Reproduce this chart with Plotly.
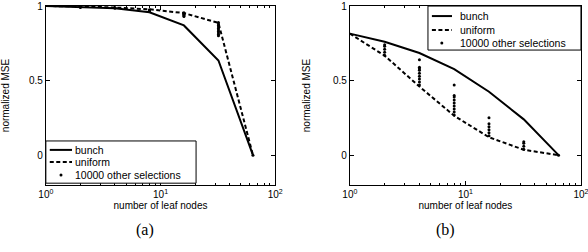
import plotly.graph_objects as go

leaf_nodes = [1, 2, 4, 8, 16, 32, 64]

# Panel (a)
bunch_a = [1.0, 0.995, 0.985, 0.958, 0.87, 0.635, 0.0]
uniform_a = [1.0, 0.998, 0.99, 0.978, 0.953, 0.887, 0.0]
other_a_x = [2, 2, 4, 4, 8, 8, 8, 16, 16, 16, 16, 16, 16,
             32, 32, 32, 32, 32, 32, 32, 32, 32, 32, 64]
other_a_y = [0.995, 0.99, 0.99, 0.985, 0.975, 0.97, 0.965, 0.955, 0.95, 0.945, 0.94, 0.935, 0.93,
             0.89, 0.88, 0.87, 0.86, 0.85, 0.84, 0.83, 0.82, 0.81, 0.80, 0.0]

# Panel (b)
bunch_b = [0.815, 0.76, 0.685, 0.577, 0.425, 0.24, 0.0]
uniform_b = [0.815, 0.667, 0.46, 0.264, 0.12, 0.036, 0.0]
other_b_x = [2, 2, 2, 2, 2,
             4, 4, 4, 4, 4, 4, 4, 4, 4,
             8, 8, 8, 8, 8, 8, 8, 8, 8,
             16, 16, 16, 16, 16, 16,
             32, 32, 32, 32, 64]
other_b_y = [0.67, 0.69, 0.71, 0.73, 0.74,
             0.47, 0.49, 0.51, 0.53, 0.55, 0.57, 0.58, 0.59, 0.64,
             0.27, 0.29, 0.31, 0.33, 0.35, 0.37, 0.39, 0.40, 0.47,
             0.13, 0.15, 0.17, 0.19, 0.21, 0.25,
             0.04, 0.06, 0.08, 0.09, 0.0]

series_names = ["bunch", "uniform", "10000 other selections"]
x_tickvals = [1, 10, 100]
x_ticktext = ["10<sup>0</sup>", "10<sup>1</sup>", "10<sup>2</sup>"]
x_minor_ticks = [2, 3, 4, 5, 6, 7, 8, 9, 20, 30, 40, 50, 60, 70, 80, 90]
y_tickvals = [0, 0.5, 1]
y_ticktext = ["0", "0.5", "1"]
captions = ["(a)", "(b)"]

font = dict(family="Liberation Sans, Arial, sans-serif", size=10, color="black")
leg_font = dict(family="Liberation Sans, Arial, sans-serif", size=10.5, color="black")
cap_font = dict(family="Liberation Serif, Times New Roman, serif", size=16, color="black")
DASH = "4px,2.5px"

fig = go.Figure()

def add_panel(xa, ya, bunch, uniform, ox, oy):
    fig.add_trace(go.Scatter(x=leaf_nodes, y=bunch, mode="lines", name=series_names[0],
                             line=dict(color="black", width=2), xaxis=xa, yaxis=ya, showlegend=False))
    fig.add_trace(go.Scatter(x=leaf_nodes, y=uniform, mode="lines", name=series_names[1],
                             line=dict(color="black", width=2, dash=DASH), xaxis=xa, yaxis=ya, showlegend=False))
    fig.add_trace(go.Scatter(x=ox, y=oy, mode="markers", name=series_names[2],
                             marker=dict(color="black", size=3), xaxis=xa, yaxis=ya, showlegend=False))

add_panel("x", "y", bunch_a, uniform_a, other_a_x, other_a_y)
add_panel("x2", "y2", bunch_b, uniform_b, other_b_x, other_b_y)

shapes = []
annotations = []

def add_legend(xa, ya, box, rows, line_x, marker_x, text_x):
    xr = f"{xa} domain"
    yr = f"{ya} domain"
    shapes.append(dict(type="rect", xref=xr, yref=yr, x0=box[0], x1=box[1], y0=box[2], y1=box[3],
                       line=dict(color="black", width=1), fillcolor="white", layer="above"))
    styles = [dict(color="black", width=2), dict(color="black", width=2, dash=DASH)]
    for i in range(2):
        shapes.append(dict(type="line", xref=xr, yref=yr, x0=line_x[0], x1=line_x[1],
                           y0=rows[i], y1=rows[i], line=styles[i], layer="above"))
    shapes.append(dict(type="circle", xref=xr, yref=yr, xsizemode="pixel", ysizemode="pixel",
                       xanchor=marker_x, yanchor=rows[2], x0=-1.5, x1=1.5, y0=-1.5, y1=1.5,
                       fillcolor="black", line=dict(color="black", width=0), layer="above"))
    for i in range(3):
        annotations.append(dict(text=series_names[i], xref=xr, yref=yr, x=text_x, y=rows[i],
                                xanchor="left", yanchor="middle", showarrow=False, font=leg_font))

add_legend("x", "y", (0.0, 0.655, 0.01, 0.246), (0.196, 0.128, 0.056), (0.017, 0.114), 0.066, 0.12)
add_legend("x2", "y2", (0.338, 1.0, 0.754, 1.0), (0.944, 0.866, 0.793), (0.355, 0.442), 0.398, 0.47)

annotations += [
    dict(text=captions[0], x=0.247, y=0.087, xref="paper", yref="paper", showarrow=False,
         xanchor="center", yanchor="middle", font=cap_font),
    dict(text=captions[1], x=0.757, y=0.087, xref="paper", yref="paper", showarrow=False,
         xanchor="center", yanchor="middle", font=cap_font),
]

axis_common = dict(showgrid=False, zeroline=False, showline=True, linecolor="black", linewidth=1,
                   mirror="ticks", ticks="inside", ticklen=4, tickcolor="black", tickfont=font,
                   automargin=False, ticklabeloverflow="allow")

xcommon = dict(axis_common, type="log", range=[0, 2], tickvals=x_tickvals, ticktext=x_ticktext,
               minor=dict(tickvals=x_minor_ticks, ticks="inside", ticklen=2, tickcolor="black",
                          showgrid=False),
               title=dict(text="number of leaf nodes", font=font, standoff=0))
ycommon = dict(axis_common, range=[-0.2, 1], tickvals=y_tickvals, ticktext=y_ticktext,
               title=dict(text="normalized MSE", font=font, standoff=20))

y_dom = [0.266, 0.976]
fig.update_layout(
    width=588, height=252,
    margin=dict(l=0, r=0, t=0, b=0),
    paper_bgcolor="white", plot_bgcolor="white",
    font=font,
    xaxis=dict(xcommon, domain=[0.078, 0.468], anchor="y"),
    yaxis=dict(ycommon, domain=y_dom, anchor="x"),
    xaxis2=dict(xcommon, domain=[0.595, 0.988], anchor="y2"),
    yaxis2=dict(ycommon, domain=y_dom, anchor="x2"),
    showlegend=False,
    shapes=shapes,
    annotations=annotations,
)

fig.write_html("out.html", config={"displayModeBar": False},
               post_script="document.body.style.margin='0';")
